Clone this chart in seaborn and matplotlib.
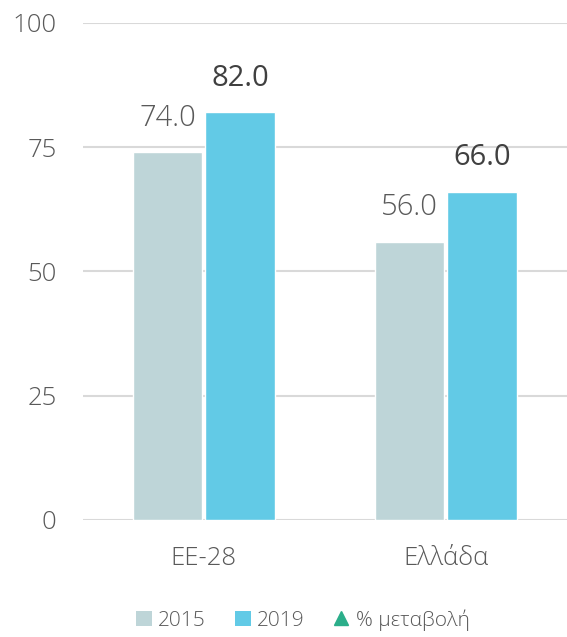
import seaborn as sns
import matplotlib.pyplot as plt
import pandas as pd
from matplotlib.lines import Line2D
from matplotlib.patches import Patch

# data
categories = ['ΕΕ-28', 'Ελλάδα']
years = ['2015', '2019']
values_2015 = [74.0, 56.0]
values_2019 = [82.0, 66.0]
y_ticks = [0, 25, 50, 75, 100]

colors = {'2015': '#BED5D8', '2019': '#62CAE6'}
text_gray = '#595959'

df = pd.DataFrame({
    'cat': categories * 2,
    'year': ['2015'] * 2 + ['2019'] * 2,
    'value': values_2015 + values_2019,
})

sns.set_style('white')
plt.rcParams['font.family'] = ['Open Sans', 'DejaVu Sans']
plt.rcParams['font.weight'] = 'light'

fig = plt.figure(figsize=(5.67, 6.37), dpi=100)
ax = fig.add_axes([0.146, 0.184, 0.854, 0.780])

sns.barplot(data=df, x='cat', y='value', hue='year', palette=colors,
            width=0.6, gap=0.04, ax=ax, legend=False, saturation=1,
            order=categories, hue_order=years)

ax.set_ylim(0, 100)
ax.set_yticks(y_ticks)
ax.set_xlim(-0.5, 1.5)
ax.yaxis.grid(True, color='#D9D9D9', linewidth=1.5)
ax.set_axisbelow(True)
for s in ax.spines.values():
    s.set_visible(False)
ax.tick_params(axis='y', length=0, pad=19, labelsize=18.5, labelcolor=text_gray)
ax.tick_params(axis='x', length=0, pad=19, labelsize=18.5, labelcolor=text_gray)
ax.set_xlabel('')
ax.set_ylabel('')

# value labels
for cont, yr in zip(ax.containers, years):
    if yr == '2015':
        ax.bar_label(cont, fmt='%.1f', padding=14, fontsize=21,
                     color=text_gray, fontweight='light')
    else:
        ax.bar_label(cont, fmt='%.1f', padding=14, fontsize=21,
                     color='#404040', fontweight='normal')

handles = [
    Patch(facecolor=colors['2015'], edgecolor='none', label='2015'),
    Patch(facecolor=colors['2019'], edgecolor='none', label='2019'),
    Line2D([], [], marker='^', linestyle='none', color='#2BAE8A',
           markersize=10, label='% μεταβολή'),
]
fig.legend(handles=handles, loc='center', bbox_to_anchor=(0.534, 0.027),
           ncol=3, frameon=False, fontsize=15, labelcolor=text_gray,
           handlelength=0.75, handleheight=0.75, handletextpad=0.3,
           columnspacing=1.4)

fig.savefig('out.png', dpi=100)
